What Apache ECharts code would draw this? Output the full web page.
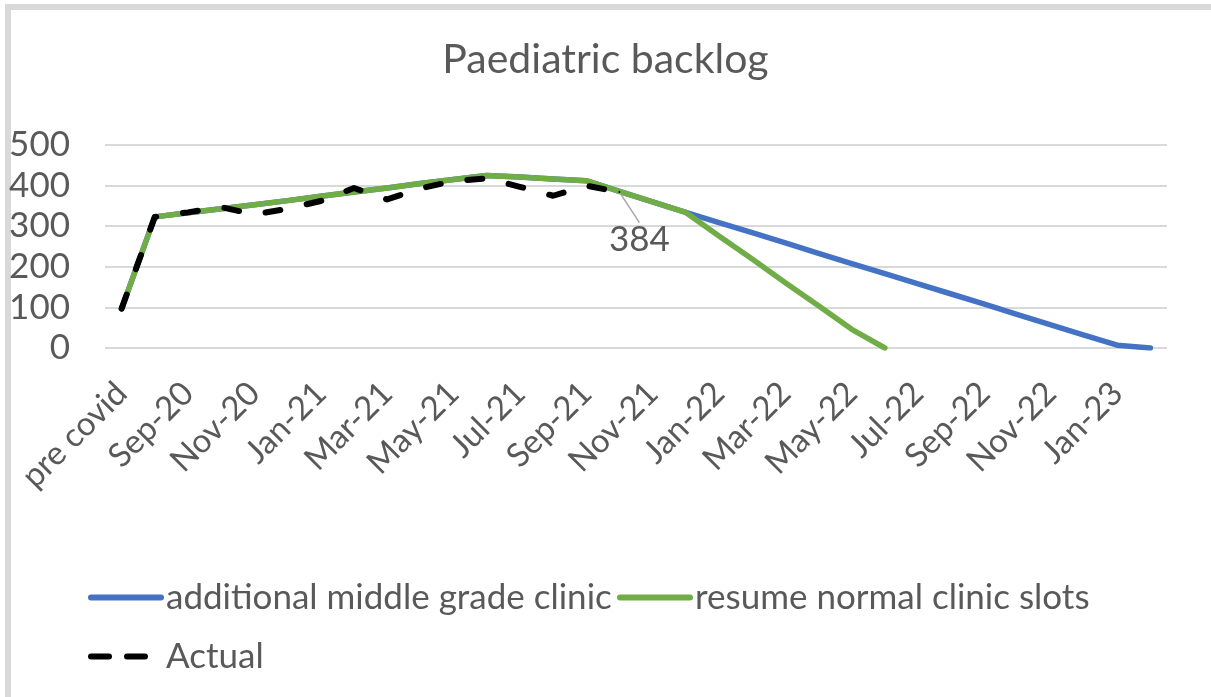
<!DOCTYPE html>
<html>
<head>
<meta charset="utf-8">
<title>Paediatric backlog</title>
<script src="https://cdn.jsdelivr.net/npm/echarts@6/dist/echarts.min.js"></script>
<style>
  html, body { margin: 0; padding: 0; background: #fff; }
  #chart { width: 1211px; height: 697px; }
</style>
</head>
<body>
<div id="chart"></div>
<script>
// months on the x axis (pre covid, then Aug-20 .. Feb-23)
var months = ['pre covid', 'Aug-20', 'Sep-20', 'Oct-20', 'Nov-20', 'Dec-20',
  'Jan-21', 'Feb-21', 'Mar-21', 'Apr-21', 'May-21', 'Jun-21', 'Jul-21', 'Aug-21',
  'Sep-21', 'Oct-21', 'Nov-21', 'Dec-21', 'Jan-22', 'Feb-22', 'Mar-22', 'Apr-22',
  'May-22', 'Jun-22', 'Jul-22', 'Aug-22', 'Sep-22', 'Oct-22', 'Nov-22', 'Dec-22',
  'Jan-23', 'Feb-23'];

// additional middle grade clinic
var middleGrade = [97, 323, 333, 343, 353, 363, 374, 384, 394, 405, 415, 425,
  421, 416, 412, 386, 360, 334, 309, 284, 259, 233, 208, 183, 158, 133, 108,
  82, 57, 32, 7, 0];

// resume normal clinic slots
var normalSlots = [97, 323, 333, 343, 353, 363, 374, 384, 394, 405, 415, 425,
  421, 416, 412, 386, 360, 334, 276, 219, 161, 104, 46, 0, null, null, null,
  null, null, null, null, null];

// actual backlog
var actual = [97, 323, 334, 347, 329, 343, 362, 394, 366, 393, 411, 418,
  397, 375, 400, 384, null, null, null, null, null, null, null, null, null,
  null, null, null, null, null, null, null];

var labelIndex = 15; // the one labelled point

var textColor = '#595959';
var font = 'Lato';

var chart = echarts.init(document.getElementById('chart'));

var actualData = actual.map(function (v, i) {
  if (i === labelIndex) {
    return { value: v, symbol: 'circle', symbolSize: 2, label: { show: true } };
  }
  return v;
});

function legendFor(name, left, top, lineStyle) {
  return {
    data: [name],
    left: left,
    top: top,
    padding: 0,
    itemWidth: 70,
    itemHeight: 14,
    itemGap: 7,
    itemStyle: { opacity: 0 },
    lineStyle: lineStyle,
    textStyle: { fontFamily: font, fontSize: 35, color: textColor }
  };
}

chart.setOption({
  animation: false,
  backgroundColor: '#fff',
  textStyle: { fontFamily: font, color: textColor },
  title: {
    text: 'Paediatric backlog',
    left: 'center',
    top: 34,
    textStyle: { fontFamily: font, fontSize: 41, fontWeight: 'normal', color: textColor }
  },
  graphic: [{
    type: 'rect',
    shape: { x: 8, y: 7, width: 1206, height: 710 },
    style: { fill: 'none', stroke: '#d9d9d9', lineWidth: 6 },
    silent: true
  }],
  grid: { left: 105, right: 44, top: 145, bottom: 349 },
  legend: [
    legendFor('additional middle grade clinic', 88, 580, { width: 6, cap: 'round' }),
    legendFor('resume normal clinic slots', 617, 580, { width: 6, cap: 'round' }),
    legendFor('Actual', 88, 639, { width: 6, type: [18, 18], cap: 'round' })
  ],
  xAxis: {
    type: 'category',
    data: months,
    boundaryGap: true,
    axisLine: { show: false },
    axisTick: { show: false },
    axisLabel: {
      interval: 1,
      rotate: 45,
      margin: 40,
      fontFamily: font,
      fontSize: 33,
      color: textColor
    }
  },
  yAxis: {
    type: 'value',
    min: 0,
    max: 500,
    interval: 100,
    axisLine: { show: false },
    axisTick: { show: false },
    axisLabel: { margin: 35, fontFamily: font, fontSize: 35, color: textColor },
    splitLine: { lineStyle: { color: '#d9d9d9', width: 2 } }
  },
  series: [{
    name: 'additional middle grade clinic',
    type: 'line',
    data: middleGrade,
    symbol: 'none',
    color: '#4472C4',
    lineStyle: { width: 5.5, color: '#4472C4', cap: 'round', join: 'round' }
  }, {
    name: 'resume normal clinic slots',
    type: 'line',
    data: normalSlots,
    symbol: 'none',
    color: '#70AD47',
    lineStyle: { width: 5.5, color: '#70AD47', cap: 'round', join: 'round' }
  }, {
    name: 'Actual',
    type: 'line',
    data: actualData,
    symbol: 'none',
    color: '#000',
    lineStyle: { width: 6, color: '#000', type: [15, 27], cap: 'round', join: 'round' },
    label: {
      show: false,
      position: 'inside',
      formatter: '{c}',
      fontFamily: font,
      fontSize: 35,
      color: textColor
    },
    labelLayout: { dx: 20, dy: 48 },
    labelLine: { show: true, lineStyle: { color: '#a6a6a6', width: 1.5 } }
  }]
});
</script>
</body>
</html>
